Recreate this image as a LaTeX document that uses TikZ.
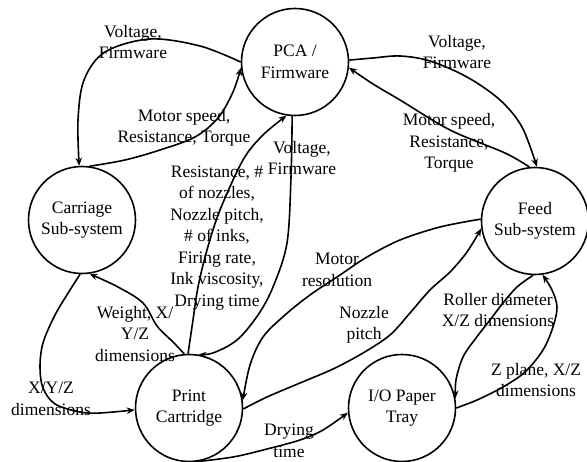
\documentclass[tikz,border=0pt]{standalone}
\usepackage{fontspec}
\setmainfont{Liberation Serif}
\usetikzlibrary{arrows.meta}
\tikzset{
  sub/.style={circle, draw, line width=1.6pt, minimum size=107pt, inner sep=0pt, align=center, font=\fontsize{17.5}{21.5}\selectfont},
  lbl/.style={align=center, inner sep=0pt, font=\fontsize{17.5}{21.5}\selectfont},
  con/.style={line width=1.6pt, -{Stealth[length=8pt,width=6.5pt]}},
  sm/.style={smooth, tension=0.55}
}
\begin{document}
\begin{tikzpicture}[x=1pt,y=-1pt]
\useasboundingbox (0,0) rectangle (587,462);
% circles
\node[sub] (pca)  at (295,62)  {PCA /\\Firmware};
\node[sub] (car)  at (82,220)  {Carriage\\Sub-system};
\node[sub] (feed) at (535,221) {Feed\\Sub-system};
\node[sub] (pc)   at (189,408) {Print\\Cartridge};
\node[sub] (io)   at (402,408) {I/O Paper\\Tray};
% labels
\node[lbl] (l1)  at (133,42)  {Voltage,\\Firmware};
\node[lbl] (l2)  at (184,128) {Motor speed,\\Resistance, Torque};
\node[lbl] (l3)  at (457,52)  {Voltage,\\Firmware};
\node[lbl] (l4)  at (449,143) {Motor speed,\\Resistance,\\Torque};
\node[lbl] (l5)  at (302,158) {Voltage,\\Firmware};
\node[lbl] (l6)  at (217,238) {Resistance, \#\\of nozzles,\\Nozzle pitch,\\\# of inks,\\Firing rate,\\Ink viscosity,\\Drying time};
\node[lbl] (l7)  at (135,334) {Weight, X/\\Y/Z\\dimensions};
\node[lbl] (l8)  at (51,399)  {X/Y/Z\\dimensions};
\node[lbl] (l9)  at (337,270) {Motor\\resolution};
\node[lbl] (l10) at (364,325) {Nozzle\\pitch};
\node[lbl] (l11) at (498,310) {Roller diameter\\X/Z dimensions};
\node[lbl] (l12) at (536,380) {Z plane, X/Z\\dimensions};
\node[lbl] (l13) at (289,441) {Drying\\time};
% connectors
\draw[con] plot[sm] coordinates {(pca.180) (200,46) (150,39) (105,52) (84,80) (78,120) (car.93)};
\draw[con] plot[sm] coordinates {(car.82) (125,160) (160,150) (195,137) (218,118) (233,92) (pca.186)};
\draw[con] plot[sm] coordinates {(pca.2) (373,58) (400,56) (430,61) (467,77) (500,100) (522,127) (feed.88)};
\draw[con] plot[sm] coordinates {(feed.96) (505,153) (450,130) (400,100) (373,84) (pca.-6)};
\draw[con] plot[sm] coordinates {(pca.-93) (291,177) (287,243) (273,287) (258,315) (237,340) (213,353) (pc.80)};
\draw[con] plot[sm] coordinates {(pc.91) (193,320) (198,287) (207,250) (220,210) (243,160) (263,135) (pca.-99)};
\draw[con] plot[sm] coordinates {(pc.95) (173,342) (157,326) (143,303) (118,287) (car.-82)};
\draw[con] plot[sm] coordinates {(car.-92) (70,290) (55,315) (43,343) (40,367) (43,388) (55,404) (80,412) (100,413) (pc.182)};
\draw[con] plot[sm] coordinates {(feed.178) (440,227) (400,240) (367,257) (340,275) (310,295) (285,315) (263,337) (250,365) (pc.8)};
\draw[con] plot[sm] coordinates {(pc.-1) (267,397) (300,383) (333,369) (363,353) (390,335) (410,313) (430,290) (450,272) (467,252) (feed.188)};
\draw[con] plot[sm] coordinates {(pc.-87) (233,457) (267,449) (300,440) (323,430) (io.185)};
\draw[con] plot[sm] coordinates {(feed.-92) (517,287) (503,303) (490,320) (476,338) (463,357) (456,380) (io.10)};
\draw[con] plot[sm] coordinates {(io.0) (477,400) (503,387) (525,372) (543,350) (553,327) (557,307) (552,290) (feed.-82)};
\end{tikzpicture}
\end{document}
